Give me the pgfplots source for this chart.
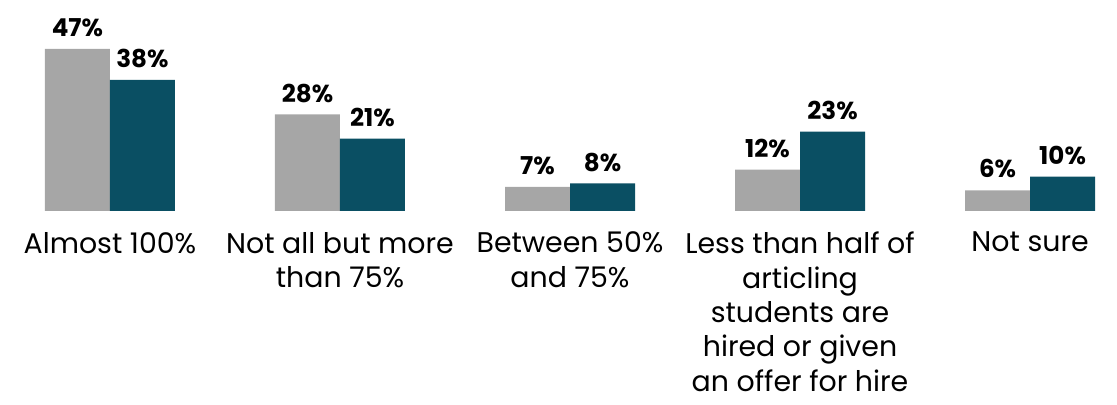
\documentclass[border=0pt]{standalone}
\usepackage{fontspec}
\setmainfont{Poppins}
\usepackage{pgfplots}
\pgfplotsset{compat=1.18}
\definecolor{cgray}{HTML}{A6A6A6}
\definecolor{cteal}{HTML}{0A4F63}
\begin{document}
\begin{tikzpicture}
\begin{axis}[
  scale only axis,
  width=558.5pt, height=105.5pt,
  xmin=-0.478, xmax=4.378,
  ymin=0, ymax=61.2,
  axis line style={draw=none},
  ytick=\empty,
  xtick={0,1,2,3,4},
  xticklabels={Almost 100\%, Not all but more\\than 75\%, Between 50\%\\and 75\%, Less than half of\\articling\\students are\\hired or given\\an offer for hire, Not sure},
  xticklabel style={align=center, font=\fontsize{14.2}{17.2}\selectfont, yshift=-7pt},
  major tick length=0pt,
  ybar=0pt,
  bar width=32.5pt,
  /pgf/number format/assume math mode=true,
  nodes near coords={\pgfmathprintnumber{\pgfplotspointmeta}\%},
  nodes near coords style={font=\bfseries\fontsize{12.3}{14}\selectfont, yshift=2.5pt},
  clip=false,
]
\addplot[fill=cgray, draw=none] coordinates {(0,47) (1,28) (2,7) (3,12) (4,6)};
\addplot[fill=cteal, draw=none] coordinates {(0,38) (1,21) (2,8) (3,23) (4,10)};
\end{axis}
\pgfresetboundingbox
\path[use as bounding box] (0,-97pt) rectangle (558.5pt,105.5pt);
\end{tikzpicture}
\end{document}
